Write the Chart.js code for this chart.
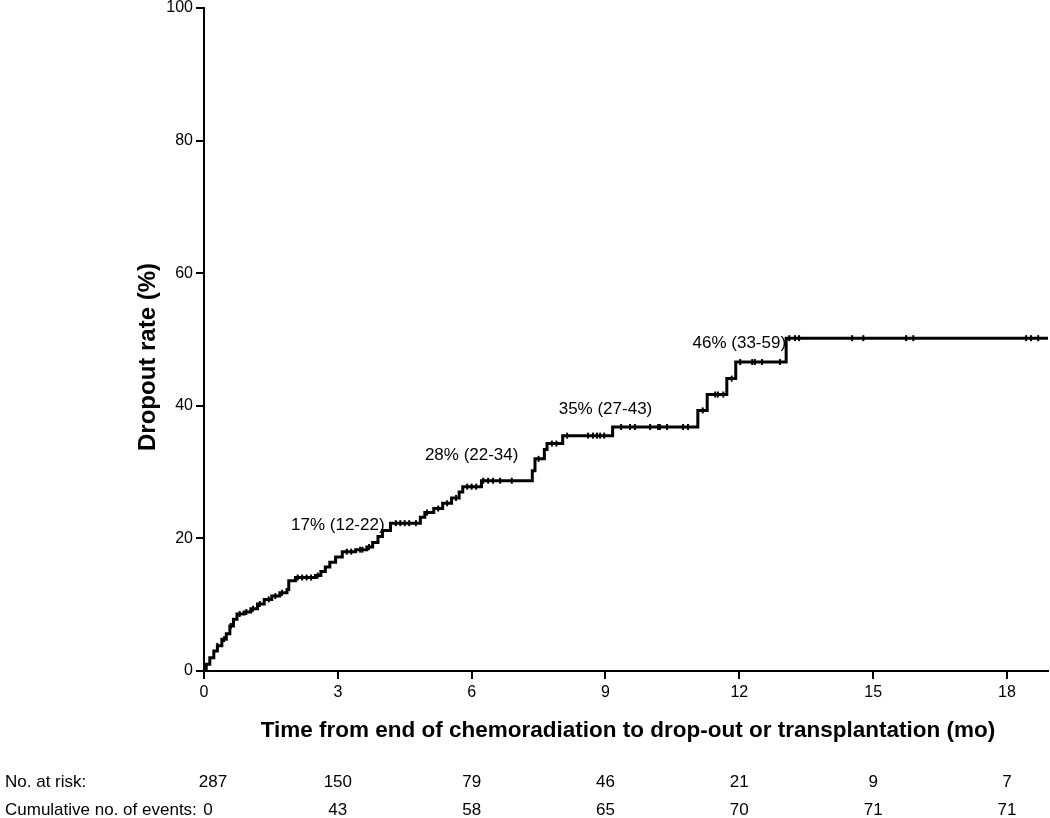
<!DOCTYPE html>
<html>
<head>
<meta charset="utf-8">
<script src="https://cdn.jsdelivr.net/npm/chart.js@4.4.0/dist/chart.umd.min.js"></script>
<style>
  html, body { margin: 0; padding: 0; background: #fff; }
  #wrap { width: 1050px; height: 818px; position: relative; }
</style>
</head>
<body>
<div id="wrap"><canvas id="km"></canvas></div>
<script>
// step points of the cumulative dropout curve (month, % after the step)
var eventMonths = [0, 0.05, 0.13, 0.22, 0.30, 0.40, 0.50, 0.58, 0.66, 0.74, 0.90, 1.05, 1.20, 1.35, 1.52, 1.70, 1.86, 1.90,
  2.05, 2.50, 2.62, 2.72, 2.82, 2.95, 3.10, 3.40, 3.65, 3.78, 3.90, 4.00, 4.18, 4.85, 4.95, 5.15, 5.35, 5.55, 5.72, 5.80,
  6.22, 7.36, 7.42, 7.63, 7.69, 8.04, 9.16, 11.07, 11.28, 11.72, 11.92, 13.05, 18.92];
var dropoutPct = [0, 1.0, 2.0, 3.0, 3.8, 4.8, 5.6, 6.8, 7.8, 8.6, 8.9, 9.4, 10.1, 10.8, 11.3, 11.8, 12.3, 13.6,
  14.1, 14.4, 15.0, 15.7, 16.4, 17.2, 18.0, 18.3, 18.7, 19.4, 20.3, 21.2, 22.3, 23.2, 23.9, 24.5, 25.3, 26.1, 27.0, 27.8,
  28.7, 30.2, 32.0, 33.4, 34.3, 35.5, 36.8, 39.3, 41.7, 44.1, 46.6, 50.2, 50.2];
// censored observations (months)
var censorMonths = [0.30, 0.45, 0.60, 0.80, 0.95, 1.10, 1.25, 1.45, 1.60, 1.75, 2.10, 2.20, 2.30, 2.40, 2.55, 3.20, 3.30, 3.50,
  3.55, 3.70, 4.30, 4.40, 4.50, 4.60, 4.75, 5.00, 5.25, 5.45, 5.65, 5.90, 6.00, 6.10, 6.26, 6.37, 6.48, 6.64, 6.90, 7.50,
  7.80, 7.90, 8.14, 8.61, 8.72, 8.81, 8.88, 8.97, 9.35, 9.55, 9.66, 10.00, 10.18, 10.22, 10.38, 10.74, 10.85, 11.18, 11.46,
  11.52, 11.64, 11.83, 12.02, 12.29, 12.35, 12.51, 12.91, 13.12, 13.25, 13.34, 14.53, 14.78, 15.74, 15.90, 18.43, 18.54, 18.70];

var xTicks = [0, 3, 6, 9, 12, 15, 18];
var yTicks = [0, 20, 40, 60, 80, 100];
var atRisk = [287, 150, 79, 46, 21, 9, 7];
var cumEvents = [0, 43, 58, 65, 70, 71, 71];

// estimates shown above the curve
var estMonths = [3, 6, 9, 12];
var estLabels = ['17% (12-22)', '28% (22-34)', '35% (27-43)', '46% (33-59)'];
var estLabelY = [21.9, 32.6, 39.5, 49.5];

var FONT = '"Liberation Sans", Arial, sans-serif';

function valueAt(t) {
  var v = 0;
  for (var i = 0; i < eventMonths.length; i++) {
    if (eventMonths[i] <= t) v = dropoutPct[i];
  }
  return v;
}

var curve = eventMonths.map(function (m, i) { return { x: m, y: dropoutPct[i] }; });
var censored = censorMonths.map(function (m) { return { x: m, y: valueAt(m) }; });

var textPlugin = {
  id: 'texts',
  afterDraw: function (chart) {
    var ctx = chart.ctx;
    var xs = chart.scales.x, ys = chart.scales.y;
    ctx.save();
    ctx.fillStyle = '#000';

    // estimate labels
    ctx.font = '17px ' + FONT;
    ctx.textAlign = 'center';
    ctx.textBaseline = 'middle';
    estMonths.forEach(function (m, i) {
      ctx.fillText(estLabels[i], xs.getPixelForValue(m), ys.getPixelForValue(estLabelY[i]));
    });

    // axis titles
    ctx.font = 'bold 22.5px ' + FONT;
    ctx.fillText('Time from end of chemoradiation to drop-out or transplantation (mo)', 628, 731);
    ctx.save();
    ctx.translate(148, 357);
    ctx.rotate(-Math.PI / 2);
    ctx.font = 'bold 24px ' + FONT;
    ctx.fillText('Dropout rate (%)', 0, 0);
    ctx.restore();

    // risk table
    ctx.font = '17px ' + FONT;
    ctx.textAlign = 'left';
    ctx.fillText('No. at risk:', 5, 782);
    ctx.fillText('Cumulative no. of events:', 5, 810);
    ctx.textAlign = 'center';
    xTicks.forEach(function (m, i) {
      var px = xs.getPixelForValue(m);
      ctx.fillText(String(atRisk[i]), i === 0 ? px + 9 : px, 782);
      ctx.fillText(String(cumEvents[i]), i === 0 ? px + 4 : px, 810);
    });
    ctx.restore();
  }
};

new Chart(document.getElementById('km'), {
  type: 'line',
  data: {
    datasets: [{
      data: curve,
      stepped: 'before',
      borderColor: '#000',
      borderWidth: 3,
      pointRadius: 0,
      fill: false
    }, {
      data: censored,
      showLine: false,
      pointStyle: 'line',
      rotation: 90,
      pointRadius: 3,
      borderWidth: 2,
      borderColor: '#000',
      backgroundColor: '#000'
    }]
  },
  options: {
    responsive: true,
    maintainAspectRatio: false,
    animation: false,
    events: [],
    layout: { autoPadding: false, padding: { top: 8, right: 2, left: 0, bottom: 0 } },
    plugins: { legend: { display: false }, tooltip: { enabled: false } },
    scales: {
      x: {
        type: 'linear',
        min: 0,
        max: 18.92,
        afterFit: function (s) { s.height = 147; s.paddingLeft = 0; s.paddingRight = 0; },
        afterBuildTicks: function (s) { s.ticks = xTicks.map(function (v) { return { value: v }; }); },
        grid: { drawOnChartArea: false, drawTicks: true, tickLength: 8, color: '#000', lineWidth: 2 },
        border: { display: true, color: '#000', width: 2 },
        ticks: { color: '#000', font: { family: FONT, size: 16 }, padding: 4, maxRotation: 0 }
      },
      y: {
        min: 0,
        max: 100,
        afterFit: function (s) { s.width = 204; s.paddingTop = 0; s.paddingBottom = 0; },
        afterBuildTicks: function (s) { s.ticks = yTicks.map(function (v) { return { value: v }; }); },
        grid: { drawOnChartArea: false, drawTicks: true, tickLength: 8, color: '#000', lineWidth: 2 },
        border: { display: true, color: '#000', width: 2 },
        ticks: { color: '#000', font: { family: FONT, size: 16 }, padding: 3 }
      }
    }
  },
  plugins: [textPlugin]
});
</script>
</body>
</html>
